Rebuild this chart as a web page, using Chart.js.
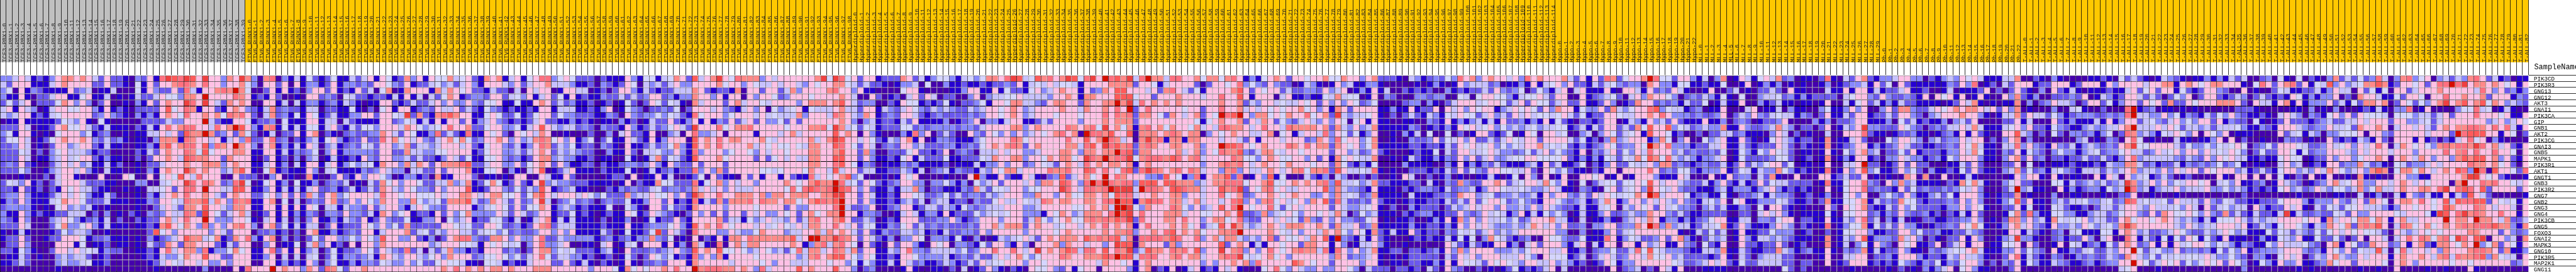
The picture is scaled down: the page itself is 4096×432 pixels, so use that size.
<!DOCTYPE html>
<html>
<head>
<meta charset="utf-8">
<style>html,body{margin:0;padding:0;background:#fff}canvas{display:block}</style>
<script src="https://cdn.jsdelivr.net/npm/chart.js@4"></script>
</head>
<body>
<canvas id="heatmap" width="4096" height="432"></canvas>
<script>
const genes = ['PIK3CD','PIK3R3','GNG13','GNG12','AKT3','GNAI1','PIK3CA','GIP','GNB1','AKT2','PIK3CG','GNAI3','GNB5','MAPK1','PIK3R1','AKT1','GNGT1','GNB3','PIK3R2','GNG7','GNB2','GNG3','GNG4','PIK3CB','GNG5','FOXO3','GNAI2','MAPK3','GNG10','PIK3R5','MAP2K1','GNG11'];
const groupNames = ['TCF3-PBX1','ETV6_RUNX1','Hyperdiploid','Hypo','MLL','Ph','T-ALL'];
const groupSizes = [40,99,115,23,30,23,83];
// one letter per cell, a = lowest colour band ... l = highest
const palette = {a:'#4500AD',b:'#2700D1',c:'#6B58EF',d:'#8888FF',e:'#C7C1FF',f:'#D5D5FF',g:'#FFC0E5',h:'#FF8989',i:'#FF7080',j:'#FF5A5A',k:'#EF4040',l:'#D60C00'};

const tcf3Levels = [
'ddegebcbdghhghgecgccbadcgbikjikjgkggdhgk',
'ecgggbbbeghggggccgccbafbgcgghiihgiggdggh',
'dfagbdcbbbbgcdeabbeaaafbgdccgciebgghihlh',
'dbbgbacceggbbfgbbeababeccegffdhhglggggih',
'cfcegacccfhgdgdacgaabadbgcghggkigkgechgh',
'egbgedabeggffggdbgbcbaccccgjfgihbggcbghg',
'edeggbcbefgggggcdgdcbadbdbghgfigghghfihi',
'abbgbbbbbcfedgbafbaaaaacccceddggglecbbgg',
'cccgeabbcghffgecbebbbacbebgighiiggeighlj',
'dfbggbabafgggdfbcdaababbeegegcjhhlhcdgch',
'cffgeabcfghgghgdcecdbabbadhhhbihggegbegd',
'ccdgeabacggdeggcbebbaabbdbhjghiigjdihglh',
'cccfeacadfgeeedbccaaaacbecghggihfjfggghh',
'cccgeabbdegefggcbdbbaacacgghgejihhggchgg',
'cdcgcbaacegegdebbebcaabacceggghgghhhdghg',
'cccfdaabdeggegdbaebbaabadbghggkhghggdehj',
'aaabaaacaeggbaaagaaagfaagafgfjgeigggaagc',
'cfedgbcacegggecccbbaaaddaaefggkigihgcdik',
'ccbgcbcacbgfgeecbbaababaeefgcgiiglggeejj',
'cddgdbbbcegegfdbbecaaabadbeghgigghgecghg',
'bdcgdbbbefhggfcccebbbabbdcggfeihhjehgdih',
'cddddbabafgdedebabaaaabaacegechhgjggedhh',
'dbbgdbcbbcceeeacadabacbadcdgeeihckgfcegh',
'dcbgdaaadegfdbcdbeacaacbccghegigglgdddgg',
'cccgeaaacfhddfgdbebbbabbcbhjgfhgdidgdghi',
'babebaaabcfdeedaabaaaaaacjfgdgggggdgecgg',
'bccgcaabccgggfbccdbbbabadbcdegjhhefhbchg',
'accgdaaaagggbfabbcabbabaecchgchhgggcbecg',
'ccbfdbaacggegefebdccaabbcbgieghhdibddfhf',
'abbecabaadedeecabcaaaaabcbeddfhggjggccgg',
'bbcecaaaadeddefbbcaaaaaabcegfeggegddgdgg',
'aaaaaaaaabaaaaaaaaaaaaaaabaaaaaaadaaaaga'
];
const etv6LevelsA = [
'hdahiadbebfcbcfbbecegbgfbchdgbgffhefgcbhghbeg',
'fdaggcgagbddbcgbddcdcggfdcgbccefdecegdbgggedg',
'faacgbgbcadggcgbcbgceafhabhgggbhehgfgccbeccae',
'gbcbgcaabaggcdcafeccbccbebgbeaecfhgbcddcggcef',
'gaaggbeaebddbcdbedbabbggcbcecceggdgddgdcffgbbf'.slice(0,32)+'dgddgdcffgbbf',
'dcbehcdccbeeaccbbfbacafgbggbcdcgeegcecbfdcbcb',
'gcaehcdbfbgfbcebbddggcggfekchcbhijhggbbfgfccf',
'fbccdafbbbggbeeaecbbbbggcdfebebgbggcgbdegdcbc',
'gdbhibfbebffbegcbecffdgggehgfdefgigghccfggddf',
'fcabeaccgbghacbacdccddhgecgfbbdicecbibbgfgcag',
'iccgicdacbdebfgdbccgccighfgegdceghfhfcdgghgdg',
'gdaghbdbebgeadebcdcfecggdehceedegggegcbfggdce',
'gbbggbebdcdfadgbdddddcggccheeddffggggbcfggdde',
'gbacgbcadadeabebbcbgdcggddececcbdgecfbbffgdcd',
'gbbegbdaebggbegbdfdefbhggdhehgcghhhijcceggddg',
'gbafhbcbbbgdaefbbbbdcdgeddaeeccgcggghbbffgadb',
'ccaadgabaahbaacgcbgdggfdabddbcahbbgggcabbabag',
'fabfgbdafbbdacdceabaechfgdggfcceehdehbcfhfbcg',
'gbbdgbebebegccdbcebcechgedgfddcgdgggjbbcggdcf',
'gccfgdgcgchecghdfggggeiggfggfffgegghhgeghhffg',
'ibbghafaeacdcghcdgdgfdhggddhfdefchhhjecdhgecg',
'gbbggbgbgbgfaeebeddcgceggdbegfddcggggbdefgfcg',
'eabcgbgbdbdcaddcgddcebhgdfgbccbgcgdfhddddgecg',
'fbaegbeadadgbbdbedcgbcgdccfbbddgafdegbccffcbe',
'gdaghcfbebeeacgbcccgfdgdfchcccccggfefccggfccd',
'gaccdbcacaghbbdbcdcggbeggghcefcedggeeceffdfcd',
'idbghadacacfcggddfdgfdjggddgcbdacghiidcchhgdg',
'gaadgabbfaehdgbcagaggdhgggggggdegggffebgfgfef',
'gbbgicgbgbdeacfbccdgfcgedciceaecehddbcbgggcdc',
'gbbdgaeaeaefacfbddcdebhgedggedfgdhgggcdffgfdf',
'gaaggbdbcbgdadfbbdbddcfeddgdfccfgffebbaffebcb',
'iggglghggdhgcihfcgghgggggggggggghgighghghhghg'
];
const etv6LevelsB = [
'bfgiidfgfcccacbbbgdbffbefhgcjeghkgfihhhdgeg',
'ceggheeedbbcadcbcgfaedecegddggggghfggdgfeege'.slice(0,30)+'gghfggdgfeege',
'ageggabggeeabcacggdbecbcceeehgcbccbhaggcggc',
'dgbegcfbgbcbbdccececdggcdbddhggdgbggagdggfc',
'bbghgcecdbbcabcabfcacgfcfebahegggcgheggfegg',
'bcbggbeeebbcbdgabfdcaccdcfacgggegdcbegdgafd',
'bcfggcfddcccbbdcagdcddfdfecbifgggdfgggegefe',
'bcegccbbdbcbabbadbcabeccgcbdgbgbdcgcegcgddf',
'begjgedeecdcadccbgdbcecdfgeckgggifghhiggggg',
'fgehgaabaaacaadaegccbgaadeagiddegaggggbggge',
'dehihfgdgbdfacfbbgecbgbdgggajghgighhggghfeg',
'bdgihcedfbccadcbagbbcecdfhdbjghgigggghegfgf',
'ceghgcededccaadbbgcaeefddgdbidgggdfggfdgegg',
'bcghhdeddbbcabbaafbabehcfecbjggghfggggcgcfg',
'cfghgcgdbbccacbbcddcdgdbgdccgcgggcggggggggg',
'aegjabcegbbbacbbbfbabebcdbccidgdhcgggggffef',
'gaagebbgcaaaaabccagabbgbeaabcfagcbbagcgbggb',
'cbgkdeddcccbbbbabgacbbhffcccibfghdgeggdgggg',
'cedjgbcdebbaaacbdcdccefcddcdhegegdgeeeggggg',
'cfhjgegggegfdfccchdeegffgdgckhggigghhhghdhh',
'cdgkeacdfcdcacdccfbbdggcgbcbibechchhhigihhg',
'cffhgbdedbcbbbfaafdbaggcfccbhggggdggggfgggg',
'ecdggbccfbcbabcbbgfbcgedcbacgdgcgcggcgegddg',
'abeghbebebbbacabbdaabfbccgcbggggghceebfdegee'.slice(0,30)+'gghceebfdegee',
'bcghiceeebbbbcbbbgbbcdddfgdbjghgigfgggegefg',
'ccdggdgdgbbbbecabfbbcfkcgecaigggddgeddfhggg',
'ddgicceddddbcdbcdbddhdcfabagacbgbhhgihhhhh'.slice(0,10)+'ddbcdbcdbddhdcfabagacbgbhhgihhhhh',
'adgiddegaabbaegabefagggbgbdahebaiaghehhgggg',
'acghhdfefcccbdebagcccdcdegdcjghgjffgfdegfde',
'cegifceeddbcabcabfcacgfdfbcbidgdhbggggfgggg',
'begggccgcbebacbabgbaccdcgggbhgggggeggggfgdg',
'gghhhggggggdgggfbhfgfgghgigglhiiihhghgdiegg'
];
const etv6LevelsC = ['ggggghkfkif','ggedgfgghhf','ehdgggghigg','dgggfggggHg'.toLowerCase(),'ggdghhhghjg','efgbfeeeghe','eehdgggeihg','cgcgggggghg','fggghhifkhe','ghegggggjgh','ggggheghkjg','fgfehhggjig','fggghhgghjg','egeehhggjjg','gggghhggijg','gggfhggejeg','gcbbiegfghj','hgfghjhhlie','fifijihilji','ghhhgghhkkg','hhfghjihjlg','cgddggggile','fgcghfghhlg','dgcehigghjg','fegehhggige','deegghehghg','hjegllhhkih','ghgbdhiehig','cfiehhegihe','ggdehighjjg','geeegggfggd','ggjghgggjgg'];
const hyperLevelsA = [
'gcggbccchgcebdffdbefdfhhgikjefjhi',
'ececcbabddeafaadbbcbbcbccdcgbefeg',
'dgbbaaaafggbaaaabbdggbbgbfccbfgde',
'eaagcabcaegcgeaccaadgadeeffgeeeed',
'ecddaacbgffbcbcfbaccdfbggfhheedcg',
'ecggbedcegfdcededccedeggfghgdeggg',
'edhgbcdcggecbcdccccdcdggfghgdeggg',
'dadebccbecgbbbbdabcdgaddbeggbbcec',
'fcfebcccffcdcddddcddcegggghhdghgg',
'gagdbaaadbidgacecaagdcgfdgdgdegfg',
'gegfcbedghbgabddcbbbdfggggihfgggg',
'fcgeacdcggdecccddbcdcfghghihcghgg',
'gchdaacccfgccbcgacdcaeeegeggddegg',
'gcgdbbcbfgbecccfbbcccfehgghhdggfh',
'fbdcabbbdcdbbbbcabbbebddgdggcdgfe',
'gceebbccedbeacdebdccbedgfhheggggi',
'dfaaababgfgaaaabaaagldbbgcbbgebac',
'fcgfcbcdggddaddfdbdafdegcgggegdhh',
'gdgcbbdbeehdaccbbbdchecffeggdffgg',
'gcgebbcbggfeccdfcecddcedegggddhgg',
'gcgdbbcbdeceadeebccadccfgeegfeeih',
'ccdgabcdggbceecedbfdcdeeegggddegg',
'gbddcaabegebddbgbcccfdefefggdddbg',
'ccedabcbgggcccddgdbcdgggdgggcehfd',
'gcffbbdcfgcecdcdcccdcgghehhhcghgg',
'ecgcbdcceedebcbeccddcgdgggggdgggg',
'gcgecbdaddgfadddbfbadaabedefgecgh',
'fagcbagcggdbagfgaddcbfcggdbgdaggg',
'hcggbbedgiddceeeedfcdggiggigegkgh',
'fdgfbbcbggfddddebcdceccegeghfdfgg',
'fbfdbbebgecdbbcedbcecgeffgggdggfg',
'dacdaaaabgbaabbacaeabcgdbacbagffg'
];
const hyperLevelsB = [
'ghkjfikglijhkeilhheiigghfhhfhigbdbfghgcggfg',
'effebgggghhhhcggfbeggggcacggfgidfdcgdccabed',
'ghggbgcdhgjjgggegchigecfbgggghjgcgfggceccdd',
'gghgbhhgggjjjfggcggghgggeggiggjgbgggaegbbcb',
'hhggchgghhlhkeighghghgggggghgghcedggefeegfg',
'ghggehgghgiglcgigggggfggcggigghegegfgfgghfg',
'fgggfgggigihichhgfchgeghcgflijlgdhhfgfhggif',
'ggggdggghghhhcgggggggggfbfghgghcgehgcfdcege',
'ggihghifkghfhbhighfhggfhegeiihhgegiggeihhhh',
'highaliihjggjahhhghihghhadgfghggeeghafgbegg',
'ggiggjghlihegahkhibhhbhhgggeggecgbgggegggcd',
'gghheijgkijhichihgghhgghdggljjigfghgggihgig',
'ghhgdhhghhlijchhgggghheghdgfihhjdcehhfeggfgg'.replace('gggghhegh','gggghegh'),
'ghhfgkihlhiikfhiiihjighieggggihffdghgffggdg',
'cghgeighghhghbghggggggggdgghihigeghggfhgggf',
'hhiggjigigfijcikihghigiheggdhidgeeghgeghifh',
'djceghfglgihgggddcjgfbdibghhjciabgdjbfaaaec',
'gjigdililihiidjjjgjjhhhdeghhiiifgghjffghghg',
'gkigeiihilkkkeliihgjjihheggjhikcgfhifgeeggg',
'dghffhhghfjiiegghgghhdggeggifghcdgghgfghggd',
'ghhgghhgiiljjbhjiighhegheggegijdgdhifgefgdh',
'gggffghghellkfdhgggihfdgdegjgilgfggifcfgegg',
'fhgdehhhgiljkgiggghhheggffgghgkccdhdefgfdgg',
'fghffhihihjikciggghhgiggdghhfgidccggegefchd',
'efggeghgighghbgiggghghfgcefjgkhedeghgehhhgg',
'fghggggghghhidgghgijghghfgghhilgggghgfegdgg',
'ghhhgjhihijehaiiiihjiggidghehhededgicgffgeh',
'hdhggeggdgkjjahgggchdggggggjcghgbebggfggchh',
'ghjieiigjgihkcejhhgihigjdggkghidgdgigfghihh',
'gihgghhhjiljjeiiigghighhegghiikfefghfgdgggg',
'gggggggehggfgbghggggggggdgdgghghdigggggjhgf',
'dcgbfggaggggdbghacbgabegbcbgegbaaafgifdgedd'
];
const hyperLevelsC = [
'ghffhggdghcccbaedbcdcfdighdghggegdighgg',
'babgdebbddbaaaaababdbabgdeeecdabbdbgbef',
'cgdegabdbgbeaacbcbcaadbcbccecgdcdfacfdb',
'bfeheffabgadcaaaddcddaafeafggffdbeffgec',
'cgdgdgfcdfaaaacddadbacegggefggfcegcgffc',
'dgbhgcggggbbdbbgbccgagegdgfggbdegfgfcgd',
'ghckedeefgbacacecbedbfegffcegdecgegeffe',
'dgdgfafgbgbbaabbaadcbgbdbdebebgccdbdbgb',
'ghchedgdehbbbbbdcabcbdbgfgefgdfdedefdee',
'eidgfcfbdgaabadbeafaafacabggcbcfabgfagg',
'hgdifggdfhaabaadccdgcfegdgccecegfeggcgg',
'hhchgfgdfhbbbbbccbccbecgfgefgdfdfegghef',
'ggcggdecdgcbaaabcbbfaecggeefgeddcdfcegd',
'cgbhfgfeehaababecbbdbdcgdgcegddeffggfff',
'ggchfcbdbfaaaadbbbbaadbgbdbdcecbbbdebgc',
'hicjgeefeibabaacccbcbecgcfdcggffeegcagf',
'bdaedaacacaabageaacabdabaabbebabfagdaga',
'hidjeefdehccbbbccaebadchdccgghgcefggehf',
'gjdheddcbgbbbacbcddcbecddebdggfeefeddeg',
'dgdhefecdhbbbbaebbbccdchggdefcddeddebgd',
'gjcieccdcgcbbabcbbccbececgcfggfcdfdcbgg',
'ggcgeddefgbacaadbcccacedegeggdgddedgdge',
'fgeheacfdebbbacbcddbbccgdcdgefebdgbebfd',
'cgdgddccfgababbcaabdbgbhdgdgeefdfcdgggh',
'hgcheegcdhbbbbbdbbccbdbgdgegedddedehgeg',
'ehghfdgfbhcbebbgcbccadcfefcegdedegggggg',
'gjbldcbebgcbaaabcbcbbebfbfadhfecbcdaagf',
'ggbgdabeegdbaabaaaaaagecbecbbggbdaegcgg',
'eibigdgdehbbccaccbcdbgdhdggggdddedfggge',
'ggdhgcddegbababcccccaecgegdgggeeegfdagf',
'ggcggggdggbabbaccbbdbgbgffecgfgfedggeeg',
'gddggfdaecccaccbcaecagdcaacababcfbcbceg'
];
const hypoLevelsA = ['ghec','gdgc','egae','ggaa','egcc','hggb','fgec','fcba','ffbc','efaa','ggec','efcb','fdcb','fgcb','ebbc','dfcb','bgaa','dgba','ebba','ggdc','fdcd','dccb','fdab','eeba','dgcc','ddaa','fdcc','gdbe','egbb','ffbc','dedb','aeaa'];
const hypoLevelsB = ['gbgcihcfgghliffcggd','cbecefdcddahgddbffb','gbbbgbaggebgcdcgeba','gbcdefcaegdhggfdacd','gbbcgdabchggcdcdbec','fddgchedfggijdfeebc','fbccggfeegghgigdddc','ccbcggabedbgdecgcbb','ebecggcechfjggjdfec','deadgfcefgbjggfbcaa','fbcadhdegggbdhfadga','dbcdgfcddgflhgidddb','gadcegcfdgeigggdecd','dbdbfecfehfjhfieded','facbdgccfeegdhhcdcb','bacbggaggggigcdcffc','ggfgabgabgggdbbbgea','faceffcffgfjgeggedc','dcbafgcefgdkgfegdcc','ecgegfeffhgljegggfb','ebcehgbdggdgegedgdc','ebbefgaedgfgcgefddc','ebbdgccdeddhggdcecb','eabbdbadegehgbddbdb','daddggcddhglidhdeeb','dabbdgcefgggggggbab','fbbbigbdfeccdgcghdb','gaebggaggbgdegbbgdc','dacddfcceifjfedddcb','eacegecdggehffgdecc','cabcgfbddggggggfecc','aaaaagacdeacagebgaa'];
const mllLevelsA = ['beadhabgebfgehcdabbacibae','bcbbfaabgabdbdababaabdabc','abgaaceabaccecagbbaaaebbg','cedbfbafaadeefcdbdbccccae','cfabebbgaadbcebbabbabgaae','dabbgaaaegabbeadbbaadfbbd','dccdgacedgdcefeebdcacgbbe','bgbbdacdcabccdgaaaadbdacc','deddhbbgdccdehedaccacgabe','cacceecdbbbadgeacabaaeaag','afdegbbgcbabfgedbccabhabb','cceegbbecbcccgecacbabhabc','ccdcfabfdbfdgfecabbabgbaf','bddegabfccccdffcabcabhabd','cdccebcgcedfggcfabbabgaae','bdddgbcfebeddhfdbcbabiabg','aagabgcddaechbaagaaaggbce','cebdgcbebcgcfeeccccabibbf','bbbdebdddbdegdbcbcbaagabf','cdbbfbaccdebeddcabcabdaaf','befdgafgbbdddfecbbcachbbf','adecebbdcafaggcbabaaagcag','bccccaaccaegegdbabbbbfbaf','cdfggbbeeaddcfggaccbbgbbe','ceefhbcgdbbbdgedacbabiabd','ecfceabgbbccfdddabcaacabf','acedeabgdbeededcbbbabhabe','afcbgaagccbccgcabcaaahabe','beedhbbecbbcchedbcdbbgbad','ccbcgbaecadeeeccaaaabgaae','degegcbfcceeeeccaccaagabc','abbbbaaaaaaaaafcacaaaaaaa'];
const mllLevelsB = ['cghcb','ddebg','bggbe','fggdc','bfgce','gdgaa','cggbc','dggbb','dgkdd','ggicb','egcaa','dggbd','dghde','bggbc','eglcc','dgjdf','ccgab','ggidc','ggicd','gdgaa','fghbe','fghcb','fggcd','dgice','ffhbf','fggdb','dgjbd','adfbg','cdhbe','eggac','gggbc','baaaa'];
const phLevels = ['ddeggddacbdedgfgebbbeeh','cfagcbbbbbbdcgdiabcaecg','bccegbbcaabeabbbcgacacg','gdccdcbgagfgbgabgbaagdh','bdbeccbbbbabcgehbababbh','dgchhdccegfghghhgegcgdh','cecggdcadeggghggdbabeeh','bdafcebcbbdadecgaaaaccg','cccgfdcacdceegehebbbefg','babccdbbabcdbgbgcbaaggj','afdggedadecddgeggacadgh','bcdgeccbbccdcgfhebbaeei','accfcgbcccbddgehfbbadcg','addgeddbcdbfdgggdbbadgh','abcgcgccaaabbecgcaaaccg','bbcgdfcadbbcbfcgcbbadeh','abaahgahaagaabebaaaaabg','agdhdebbbbacbhfhebaadfg','ccbgcfcdccdcdfegdaaacel','dfdcgdbbdecfbgggdbabcch','cdchffcbcccdcgdgdaabdfj','becgdfccccbddgdgfbaaccg','bdcgdccdbcacbebgcaaabfh','adbeabaccbbccddgdabachh','cecgddbabccdcgfhfbabdgh','bccggdfccdbbccedcaaabgg','ddchegdacbaccgbgdaabdek','dcagfgbbcgacegbggabbffg','bccgdbbadcdeffghebbbddg','cdbgggdbccbedgeedbaacgi','bcbfdcbdcfbdcfggdacadcg','abacabadbdegafgdbbaaacg'];
const tallLevelsA = ['aacbadbaaaabbcb','ggbccgggbcgggbg','cbadagcbebabbbc','cbdaacccdcgabed','adacdgeedacggcf','abaaadaaefbaaca','cgeecfdbcdddccd','beaaagcbdbbbebg','dgccbfdcbbdedde','edacafcaddcdbdf','adaaaaaaadeabad','dgdcbgdcebdedcd','bfdcadfddbdefcd','cgcdaccbcceccec','afababbbcbbbcbe','cfcdbefdcbeeece','dggbagbabbaagbg','ccaaaffbecdedec','debbaagbdbcddbf','abaaadaabbaaaba','cgbbadeceefddef','bfabafecbbcacee','cidbbffddbbdeec','dgdebhfeffgdeec','egdcbgddedgfdef','becbacdaefbbbff','ddbaacdbccgdaeg','agcaabgafebcdbf','cfdcagbbdcefcce','becbadcabdcdcce','bfdbbedcbbcdbcd','aaaaaaaaaaaaaaa'];
const tallLevelsB = [
'afcecbabedcbabbdbdbeceaacdafbafacbadhcecfcd',
'dggggegghhbghgfghhgggbafigcghicgbfejdgdefhh',
'bbegcfgcggbfcbcggdcaagabaacfebbccebdgeeagcf',
'bcggececacfdgacggcbcedacecbcbgfbdbddgacahgg',
'bdggcgfgchccgfggghhhgcageebghbgbdddgcebfchh',
'aailbcdabbababaaaaaacccbaaaaabbadabadaaabcb',
'cdileeddgdfbdcbecfdgdcbbcbaegedadcbfgdgcgff',
'bdggcefdcegdfdggcgbdccafbabcgcccbcdeccee'+'geg',
'eghleeegegfceedeceeefdbbdcbgggedcddgeefchgg',
'acihdedbfegfdgagfdgabbbaaaagcefbedaddfffgag',
'cagifabaaaebbabbdgagacaabaaadccabaagcbcbedb',
'cghkffggggecfddfdfefgfacdfcgggfeccdgefgdgeg',
'dfgeecdgefgdggdgefegfdacfccggfbfcddgggedgeg',
'bdgideeeeedcedcgdgfgeebbcbbfgffabccgdggdfgg',
'ddhhecdbccebdcdcdfcdfbabbaaegdeabcbggcddhec',
'deghdeedgdgeggcgfgggdebcecbfggdedgehgfdegdh',
'eagdefbcecabcaaaagbaggagagafbacagabgaabahba',
'dekhdegdgdfeggfgaefdgbbcdabgedcabcdghefghdd',
'delidebdeegdeeegddfdedbcbcbfgdecdgedffdehdf',
'accgaabaaabaaaaaaaaaacaaaaaaaabaaaaabbaaeab',
'cdjiefeefcgeeecgdcfeccbbcccfgggdbdddgdcegch',
'ceggedgeeefdgeagcefdeeagdbccgegbaecfecffgee',
'dfggdcgchgffgfdgdchcecbeccbekbeccdccfecgddg',
'cghfggfghgededbebfffgecedeeggggfggbheggfhhf',
'dhkhggggggedgedeegggegbcedbfggfdbedhgfhchih',
'bghgdeccdegfdccedegfdebbbfcfecedcfcfgegfgff',
'aaigbecbfbfcgfbfcbgbbbabdbbfedgbbfccfcacgag',
'cghgcdgbgbgefggfdfedbdcbbfdgeeefdcaghbgfcch',
'dgglfcefddgcddcdbfcfdgbcdddegggdcdbgfdgcfee',
'dchgedfcfefeffegeddfdcaddbafgegacedgheddgeg',
'dgglgfcegfgcfdfgfgcgfdabfdbgddgbbcdhfggcggg',
'aefgaaabaaaaaaaaaaaaadaaaaaaaababaaaaaaabaa'
];
const tallLevelsC = ['ieadhidfgadecedhigcebcabb','jhbcggfgcgiilikghhghgfgbg','bfaggceggghgggggeigdgcdbd','ebbfcggfaggigghgghcgggbdc','ghacgfcfdghkghjghjfhgdedc','ebaddiabgaaaadffiefabebaa','feafffdeecegcgggigggfgbbg','ggcggddefcegggggggdegdegf','hgaeggegecghghhiihgigiebg','gdcgggggegggclijjjggbgfac','gcagggbgbcacbegifgadbaaaa','igaehgfgfdhihiihkighegcbg','ggegggdggggighigiggiggfag','hgaghgehgdggdhjhjjghdgcbg','dbafecddegeggggihhghfgcag','jhafhhfhgeghgjidliajggfci','baaggddbbggggghkkgfgcbaab','ggeghgegfgggahlggihiggfeg','heeghgghhgikgijigjcggggcg','daaebgdcebbgbecjgecaaaaab','gfaghhgigfgjejiijjcgfefbg','edbdggfggfgjhgggihgeggeag','gggfegggfbkjgikhihggiggbg','hgbgheegggglghhglhhgehcce','jgaeihfghfghghihiiijhhdbh','ecagedegfgfgggghhgggcgdcd','geaegigihfhifkigjkaggdeah','ggcdgbghcbhhgfhgldfhcgfbg','jeafieggegdhggghiihgchbbd','ggbghgghgehieihhijdhfeeag','gfaghgdgggggfggfggggggcdg','baagaaaabaabaaagbaaaaaaaa'];

// segments in column order, with the number of columns each one holds
const levelSegments = [[tcf3Levels,40],[etv6LevelsA,45],[etv6LevelsB,43],[etv6LevelsC,11],[hyperLevelsA,33],[hyperLevelsB,43],[hyperLevelsC,39],[hypoLevelsA,4],[hypoLevelsB,19],[mllLevelsA,25],[mllLevelsB,5],[phLevels,23],[tallLevelsA,15],[tallLevelsB,43],[tallLevelsC,25]];

const sampleLabels = groupNames.flatMap((name, g) => Array.from({length: groupSizes[g]}, (_, i) => `${name}-${i}`));
const headerColors = groupNames.flatMap((name, g) => Array(groupSizes[g]).fill(g === 0 ? '#C0C0C0' : '#FFC800'));

const SCALE = 4096 / 5049;
const LINE = SCALE;
const AXIS_TOP = 147 * SCALE;
const GRID_RIGHT = 4956 * SCALE;
const HEADER_BOTTOM = 122 * SCALE;

const datasets = [{
  data: sampleLabels.map(() => [-12.25, -25 / 12]),
  backgroundColor: headerColors,
  borderWidth: 0,
  clip: false
}];
genes.forEach((gene, row) => {
  const levels = levelSegments.map(([rows]) => rows[row]).join('');
  datasets.push({
    data: [...levels].map(() => [row, row + 1]),
    backgroundColor: [...levels].map((ch) => palette[ch]),
    borderColor: '#000',
    borderWidth: {left: LINE, top: LINE, right: 0, bottom: row === genes.length - 1 ? LINE : 0},
    borderSkipped: false,
    clip: false
  });
});

const sampleNameHeader = {
  id: 'sampleNameHeader',
  afterDraw(chart) {
    const {ctx} = chart;
    ctx.save();
    ctx.font = '11.9px "Liberation Mono"';
    ctx.fillStyle = '#000';
    ctx.fillText('SampleName', 4967 * SCALE, 135.7 * SCALE);
    ctx.restore();
  }
};

new Chart(document.getElementById('heatmap'), {
  type: 'bar',
  data: {labels: sampleLabels, datasets},
  plugins: [sampleNameHeader],
  options: {
    responsive: false,
    animation: false,
    events: [],
    layout: {padding: 0},
    grouped: false,
    barPercentage: 1,
    categoryPercentage: 1,
    inflateAmount: 0,
    plugins: {legend: {display: false}, tooltip: {enabled: false}},
    scales: {
      x: {
        position: 'top',
        offset: true,
        border: {display: false},
        grid: {offset: true, drawOnChartArea: false, tickLength: AXIS_TOP, tickWidth: LINE, tickColor: '#000', z: 1},
        ticks: {
          autoSkip: false, minRotation: 90, maxRotation: 90, z: 1,
          padding: -HEADER_BOTTOM, labelOffset: 14.2, color: '#222',
          font: {family: '"Liberation Mono"', size: 9.47}
        },
        afterFit(scale) {
          scale.height = AXIS_TOP;
          scale.paddingLeft = 0;
          scale.paddingRight = 0;
        }
      },
      y: {
        position: 'right',
        reverse: true,
        min: 0,
        max: genes.length,
        border: {display: true, color: '#000', width: LINE},
        grid: {drawOnChartArea: false, tickLength: 4096 - GRID_RIGHT, tickWidth: LINE, tickColor: '#000', z: 1},
        ticks: {
          autoSkip: false, stepSize: 1, padding: -(4096 - GRID_RIGHT) + 8.4, labelOffset: 6.5,
          color: '#000', font: {family: '"Liberation Mono"', size: 9.2},
          callback: (value) => genes[value] || ''
        },
        afterFit(scale) {
          scale.width = 4096 - GRID_RIGHT;
          scale.paddingTop = 0;
          scale.paddingBottom = 0;
        }
      }
    }
  }
});

const badRows = levelSegments.flatMap(([rows, width], s) => rows.map((r, i) => (r.length === width ? '' : `${s}:${i}:${r.length}`))).filter(Boolean);
if (badRows.length) throw new Error('segment length mismatch ' + badRows.join(' '));
</script>
</body>
</html>
